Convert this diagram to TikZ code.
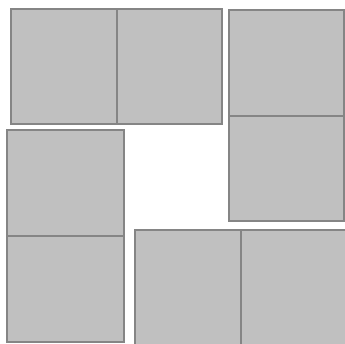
\documentclass[tikz,border=0pt]{standalone}
\definecolor{tilefill}{HTML}{C0C0C0}
\definecolor{tileedge}{HTML}{858585}
\tikzset{tile/.style={fill=tilefill,draw=tileedge,line width=2pt},
         divider/.style={draw=tileedge,line width=2pt}}
\begin{document}
\begin{tikzpicture}[x=1pt,y=-1pt]
\useasboundingbox (0,0) rectangle (345,344);
\clip (0,0) rectangle (345,344);
% top domino
\draw[tile] (11,9) rectangle (222,124);
\draw[divider] (116.5,9) -- (116.5,124);
% right domino
\draw[tile] (229,10) rectangle (344,221);
\draw[divider] (229,116) -- (344,116);
% left domino
\draw[tile] (7,130) rectangle (124,342);
\draw[divider] (7,236.5) -- (124,236.5);
% bottom domino
\draw[tile] (135,230) rectangle (347,347);
\draw[divider] (240.5,230) -- (240.5,347);
\end{tikzpicture}
\end{document}
